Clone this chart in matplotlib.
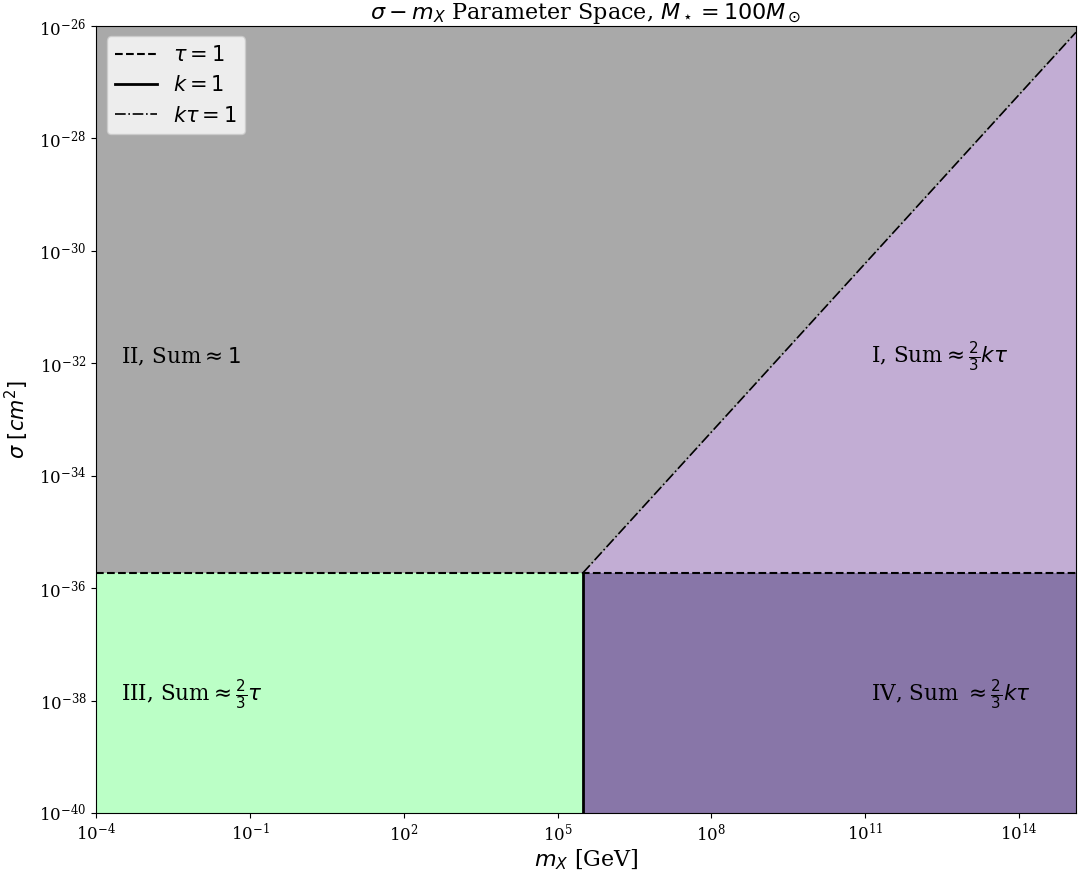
import matplotlib
matplotlib.use("Agg")
import matplotlib.pyplot as plt
import numpy as np

plt.rcParams['font.family'] = 'serif'

# axis limits
m_lim = [1e-4, 1.3e15]
sig_lim = [1e-40, 1e-26]

# boundaries: tau = 1 (horizontal), k = 1 (vertical), k*tau = 1 (slope 1)
m_c = 3.1e5
sig_c = 1.85e-36

# region labels
labels = [r"II, Sum$\approx 1$", r"I, Sum$\approx\frac{2}{3}k\tau$",
          r"III, Sum$\approx\frac{2}{3}\tau$", r"IV, Sum $\approx\frac{2}{3}k\tau$"]
label_x = [3.1e-4, 1.3e11, 3.1e-4, 1.3e11]
label_y = [1e-32, 1e-32, 1e-38, 1e-38]

colors = {"I": "#c2add4", "II": "#a9a9a9", "III": "#bbffc6", "IV": "#8876a8"}

fig, ax = plt.subplots(figsize=(10.8, 8.71), dpi=100)
fig.subplots_adjust(left=0.089, right=0.9963, top=0.9701, bottom=0.0666)

m_right = np.array([m_c, m_lim[1]])
sig_ktau = sig_c * m_right / m_c

# fills
ax.fill_between(m_lim, sig_c, sig_lim[1], color=colors["II"], lw=0)
ax.fill_between(m_right, sig_c, sig_ktau, color=colors["I"], lw=0)
ax.fill_between([m_lim[0], m_c], sig_lim[0], sig_c, color=colors["III"], lw=0)
ax.fill_between(m_right, sig_lim[0], sig_c, color=colors["IV"], lw=0)

# boundary lines
ax.plot(m_lim, [sig_c, sig_c], 'k--', lw=1.5, label=r"$\tau=1$")
ax.plot([m_c, m_c], [sig_lim[0], sig_c], 'k-', lw=2, label=r"$k=1$")
ax.plot(m_right, sig_ktau, 'k-.', lw=1.2, label=r"$k\tau=1$")

for t, x, y in zip(labels, label_x, label_y):
    ax.text(x, y, t, fontsize=15.5)

ax.set_xscale('log')
ax.set_yscale('log')
ax.set_xlim(m_lim)
ax.set_ylim(sig_lim)
ax.set_xticks([1e-4, 1e-1, 1e2, 1e5, 1e8, 1e11, 1e14])
ax.set_yticks([1e-40, 1e-38, 1e-36, 1e-34, 1e-32, 1e-30, 1e-28, 1e-26])
ax.minorticks_off()
ax.tick_params(labelsize=12)

ax.set_xlabel(r"$m_X$ [GeV]", fontsize=16, labelpad=2)
ax.set_ylabel(r"$\sigma$ $[cm^2]$", fontsize=15, labelpad=6)
ax.set_title(r"$\sigma - m_X$ Parameter Space, $M_\star = 100 M_\odot$", fontsize=16, pad=1)
ax.legend(loc='upper left', fontsize=15)

fig.savefig("out.png")
